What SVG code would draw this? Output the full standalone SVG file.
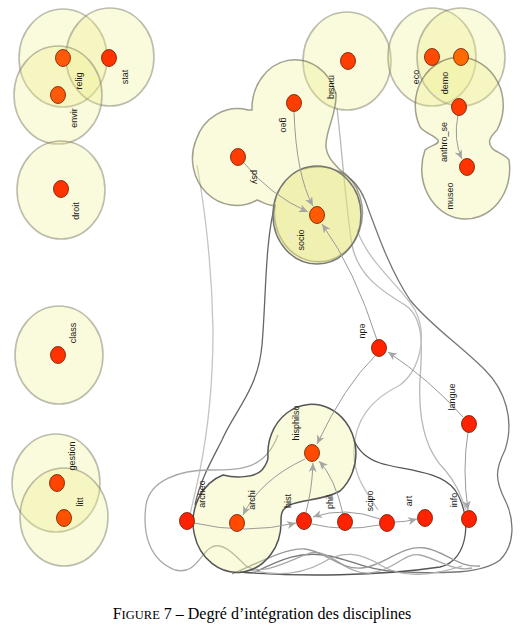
<svg xmlns="http://www.w3.org/2000/svg" width="526" height="642" viewBox="0 0 526 642">
<style>
.c{fill:rgba(238,238,138,0.3);stroke:rgba(110,110,90,0.45);stroke-width:1.6}
.hull{fill:rgba(238,238,138,0.3);stroke:rgba(100,100,80,0.6);stroke-width:1.5}
.hd{fill:rgba(238,238,138,0.3);stroke:#555;stroke-width:1.5}
.soc{fill:rgba(225,225,110,0.4);stroke:#777;stroke-width:1.5}
.g{fill:none;stroke-width:1.3}
.e{fill:none;stroke:#9a9a9a;stroke-width:1}
.n{stroke:#6b1a00;stroke-width:0.8}
.lbl{font-family:"Liberation Sans",Arial,sans-serif;font-size:9px;fill:#1a1a1a}
.cap{font-family:"Liberation Serif","Times New Roman",serif;fill:#000}
</style>
<defs>
<marker id="ah" markerUnits="userSpaceOnUse" markerWidth="10" markerHeight="8" refX="9" refY="4" orient="auto">
<path d="M0,0 L9,4 L0,8 L2.5,4 Z" fill="#a5a5a5"/>
</marker>
</defs>
<rect width="526" height="642" fill="#fff"/>

<g id="hulls-gray">
<path class="g" stroke="#c4c4c4" d="M197,165 C205,210 212,270 213,330 C213,380 208,430 200,470 C196,490 192,505 190,515"/>
<path class="g" stroke="#b8b8b8" d="M337,108 C342,150 345,200 352,245 C358,275 380,290 405,305 C425,318 422,350 420,380 C418,420 425,450 445,470 C458,485 462,500 466,510"/>
<path class="g" stroke="#c0c0c0" d="M357,230 C370,265 400,285 415,310 C428,335 420,370 400,385 C370,400 355,420 354,450 C353,475 365,490 378,510"/>
<path class="g" stroke="#666" d="M275,205 C265,240 266,300 262,345 C258,390 235,410 222,440 C212,460 200,480 195,505"/>
<path class="g" stroke="#777" d="M300,170 C330,160 355,175 365,200 C378,235 390,270 410,300 C430,325 460,345 485,370 C505,390 515,420 505,450 C495,470 495,480 505,500 C515,520 515,545 500,560 C480,575 440,573 400,572 C370,571 350,560 330,556 C300,550 280,560 255,572"/>
<path class="g" stroke="#555" stroke-width="1.5" d="M240,572 C300,577 380,576 440,567 C470,560 472,515 455,490 C440,470 400,470 380,463 C365,458 358,450 354,440"/>
<path class="g" stroke="#a8a8a8" d="M278,435 C265,470 240,470 210,470 C180,470 150,480 146,505 C142,535 150,560 175,570 C195,575 200,555 210,548 C222,540 235,555 245,565 C260,578 290,560 310,553 C330,548 345,575 370,573 C395,570 405,552 420,555 C440,560 455,572 472,568"/>
<path class="g" stroke="#9a9a9a" d="M232,574 C260,562 285,548 305,549 C325,551 340,570 362,568 C385,566 400,545 425,548 C445,551 458,568 480,566"/>
<path class="g" stroke="#b0b0b0" d="M250,570 C275,576 300,575 322,563 C342,550 360,552 382,566 C402,578 432,576 462,566"/>
</g>

<g id="clusters">
<ellipse class="c" cx="63" cy="58" rx="44" ry="49"/>
<ellipse class="c" cx="110" cy="57" rx="44" ry="49"/>
<ellipse class="c" cx="58" cy="95" rx="44" ry="49"/>
<ellipse class="c" cx="61" cy="190" rx="44" ry="49"/>
<ellipse class="c" cx="59" cy="355" rx="44" ry="49"/>
<ellipse class="c" cx="56" cy="483" rx="44" ry="49"/>
<ellipse class="c" cx="64" cy="517" rx="44" ry="49"/>
<ellipse class="c" cx="347" cy="61" rx="44" ry="49"/>
<ellipse class="c" cx="432" cy="57" rx="44" ry="49"/>
<ellipse class="c" cx="461" cy="57" rx="44" ry="49"/>
<path class="hull" d="M420,127 A44,48 0 1 1 497,130 C490,137 487,142 492,148 C495,152 505,154 509,160 A44,50 0 1 1 425,150 C430,145 440,145 438,140 C433,135 425,133 420,127 Z"/>
<path class="hull" d="M252,110 A43,49 0 0 1 336,94 C337,115 325,130 326,147 C327,157 333,162 340,170 A44,49 0 1 1 275,205 C270,207 265,203 257,200 A44,47 0 0 1 196,140 A44,47 0 0 1 248,110 Z"/>
<ellipse class="soc" cx="317" cy="215" rx="44" ry="49"/>
<path class="hd" d="M268,457 A44,49 0 1 1 340,491 C325,500 300,500 290,505 C283,508 281,512 281,520 A44,50 0 1 1 223,475 C235,478 255,478 262,470 C266,465 268,460 268,457 Z"/>
</g>

<g id="connectors">
<path class="e" marker-end="url(#ah)" d="M244,163 Q270,195 308,212"/>
<path class="e" marker-end="url(#ah)" d="M294,111 Q296,175 313,206"/>
<path class="e" marker-end="url(#ah)" d="M377,340 Q355,270 322,224"/>
<path class="e" marker-end="url(#ah)" d="M375,356 Q345,385 317,444"/>
<path class="e" marker-end="url(#ah)" d="M463,417 Q430,380 388,352"/>
<path class="e" marker-end="url(#ah)" d="M468,432 Q462,470 468,510"/>
<path class="e" marker-end="url(#ah)" d="M458,115 Q453,140 462,159"/>
<path class="e" marker-end="url(#ah)" d="M305,459 Q260,480 243,515"/>
<path class="e" marker-end="url(#ah)" d="M194,523 Q245,535 296,523"/>
<path class="e" marker-end="url(#ah)" d="M306,512 Q312,490 313,463"/>
<path class="e" marker-end="url(#ah)" d="M343,514 Q335,478 319,461"/>
<path class="e" marker-end="url(#ah)" d="M380,519 Q345,506 313,517"/>
<path class="e" d="M312,524 Q345,532 379,525"/>
<path class="e" marker-end="url(#ah)" d="M395,522 Q405,522 417,519"/>
</g>

<g id="relig"><ellipse class="n" cx="63" cy="58" rx="7.5" ry="8.5" fill="#ff5a0a"/><text class="lbl" text-anchor="middle" dy="0.35em" transform="translate(79,81) rotate(-90)">relig</text></g>
<g id="stat"><ellipse class="n" cx="109" cy="58" rx="7.5" ry="8.5" fill="#ff3300"/><text class="lbl" text-anchor="middle" dy="0.35em" transform="translate(125,77) rotate(-90)">stat</text></g>
<g id="envir"><ellipse class="n" cx="58" cy="95" rx="7.5" ry="8.5" fill="#ff5a0a"/><text class="lbl" text-anchor="middle" dy="0.35em" transform="translate(74,118) rotate(-90)">envir</text></g>
<g id="droit"><ellipse class="n" cx="61" cy="189" rx="7.5" ry="8.5" fill="#ff3300"/><text class="lbl" text-anchor="middle" dy="0.35em" transform="translate(76,211) rotate(-90)">droit</text></g>
<g id="class"><ellipse class="n" cx="58" cy="355" rx="7.5" ry="8.5" fill="#ff3300"/><text class="lbl" text-anchor="middle" dy="0.35em" transform="translate(73,333) rotate(-90)">class</text></g>
<g id="gestion"><ellipse class="n" cx="57" cy="483" rx="7.5" ry="8.5" fill="#ff4400"/><text class="lbl" text-anchor="middle" dy="0.35em" transform="translate(72,456) rotate(-90)">gestion</text></g>
<g id="litt"><ellipse class="n" cx="64" cy="518" rx="7.5" ry="8.5" fill="#ff5000"/><text class="lbl" text-anchor="middle" dy="0.35em" transform="translate(80,502) rotate(-90)">litt</text></g>
<g id="musiq"><ellipse class="n" cx="348" cy="61" rx="7.5" ry="8.5" fill="#ff3d00"/><text class="lbl" text-anchor="middle" dy="0.35em" transform="translate(332,87) rotate(90)">musiq</text></g>
<g id="geo"><ellipse class="n" cx="294" cy="103" rx="7.5" ry="8.5" fill="#ff3d00"/><text class="lbl" text-anchor="middle" dy="0.35em" transform="translate(284,125) rotate(90)">geo</text></g>
<g id="psy"><ellipse class="n" cx="238" cy="157" rx="7.5" ry="8.5" fill="#ff3d00"/><text class="lbl" text-anchor="middle" dy="0.35em" transform="translate(255,177) rotate(90)">psy</text></g>
<g id="socio"><ellipse class="n" cx="317" cy="215" rx="7.5" ry="8.5" fill="#ff5a00"/><text class="lbl" text-anchor="middle" dy="0.35em" transform="translate(301,240) rotate(-90)">socio</text></g>
<g id="edu"><ellipse class="n" cx="379" cy="348" rx="7.5" ry="8.5" fill="#ff2200"/><text class="lbl" text-anchor="middle" dy="0.35em" transform="translate(363,331) rotate(90)">edu</text></g>
<g id="eco"><ellipse class="n" cx="432" cy="57" rx="7.5" ry="8.5" fill="#ff4a00"/><text class="lbl" text-anchor="middle" dy="0.35em" transform="translate(416,77) rotate(-90)">eco</text></g>
<g id="demo"><ellipse class="n" cx="461" cy="57" rx="7.5" ry="8.5" fill="#ff6a00"/><text class="lbl" text-anchor="middle" dy="0.35em" transform="translate(445,83) rotate(-90)">demo</text></g>
<g id="anthro_se"><ellipse class="n" cx="459" cy="107" rx="7.5" ry="8.5" fill="#ff3c00"/><text class="lbl" text-anchor="middle" dy="0.35em" transform="translate(444,142) rotate(-90)">anthro_se</text></g>
<g id="museo"><ellipse class="n" cx="467" cy="167" rx="7.5" ry="8.5" fill="#ff3300"/><text class="lbl" text-anchor="middle" dy="0.35em" transform="translate(450,196) rotate(-90)">museo</text></g>
<g id="langue"><ellipse class="n" cx="469" cy="424" rx="7.5" ry="8.5" fill="#ff2200"/><text class="lbl" text-anchor="middle" dy="0.35em" transform="translate(452,397) rotate(-90)">langue</text></g>
<g id="info"><ellipse class="n" cx="469" cy="519" rx="7.5" ry="8.5" fill="#ff2200"/><text class="lbl" text-anchor="middle" dy="0.35em" transform="translate(454,500) rotate(-90)">info</text></g>
<g id="art"><ellipse class="n" cx="425" cy="518" rx="7.5" ry="8.5" fill="#ff2200"/><text class="lbl" text-anchor="middle" dy="0.35em" transform="translate(409,501) rotate(-90)">art</text></g>
<g id="scipo"><ellipse class="n" cx="387" cy="523" rx="7.5" ry="8.5" fill="#ff2200"/><text class="lbl" text-anchor="middle" dy="0.35em" transform="translate(370,501) rotate(-90)">scipo</text></g>
<g id="phil"><ellipse class="n" cx="345" cy="522" rx="7.5" ry="8.5" fill="#ff2200"/><text class="lbl" text-anchor="middle" dy="0.35em" transform="translate(330,502) rotate(-90)">phil</text></g>
<g id="hist"><ellipse class="n" cx="304" cy="521" rx="7.5" ry="8.5" fill="#ff2200"/><text class="lbl" text-anchor="middle" dy="0.35em" transform="translate(288,501) rotate(-90)">hist</text></g>
<g id="archi"><ellipse class="n" cx="237" cy="523" rx="7.5" ry="8.5" fill="#ff4a00"/><text class="lbl" text-anchor="middle" dy="0.35em" transform="translate(252,500) rotate(-90)">archi</text></g>
<g id="archeo"><ellipse class="n" cx="187" cy="521" rx="7.5" ry="8.5" fill="#ff2200"/><text class="lbl" text-anchor="middle" dy="0.35em" transform="translate(202,494) rotate(-90)">archeo</text></g>
<g id="hisphilso"><ellipse class="n" cx="312" cy="453" rx="7.5" ry="8.5" fill="#ff4a00"/><text class="lbl" text-anchor="middle" dy="0.35em" transform="translate(296,423) rotate(-90)">hisphilso</text></g>

<text class="cap" x="262" y="619" text-anchor="middle" font-size="16">F<tspan font-size="12.5">IGURE</tspan> 7 – Degré d’intégration des disciplines</text>
</svg>
